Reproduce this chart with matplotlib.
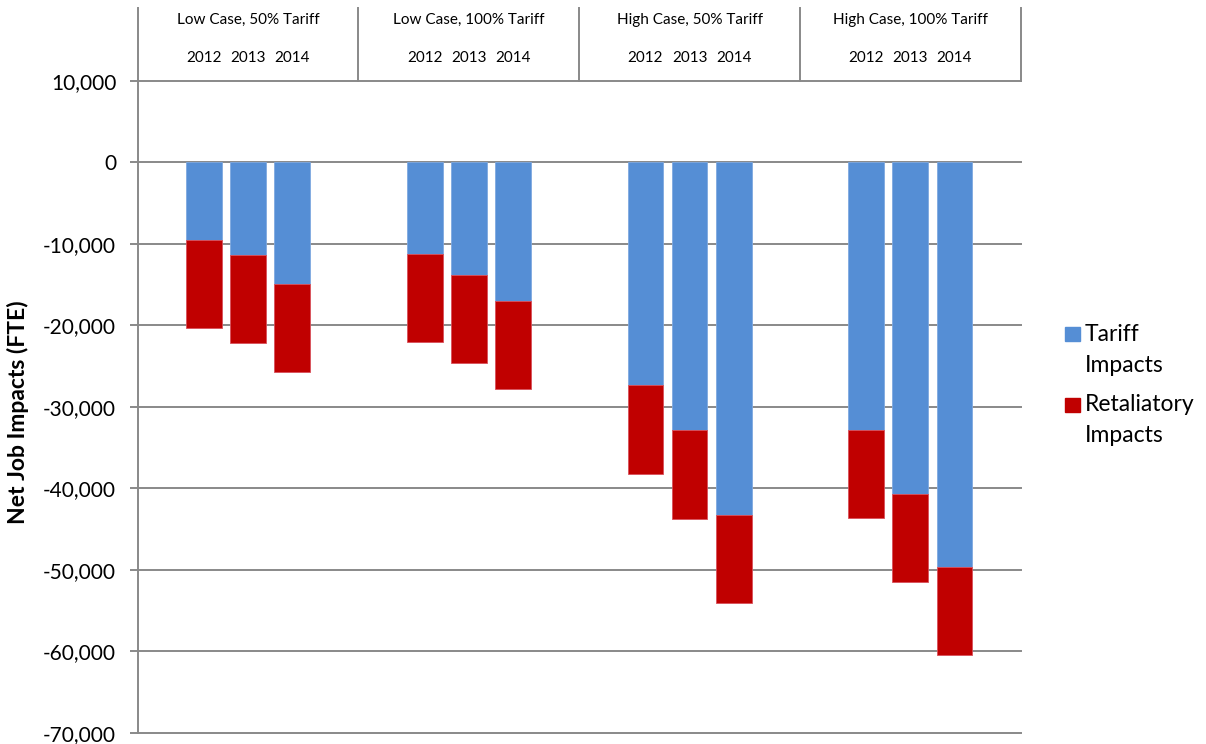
import numpy as np
import matplotlib
matplotlib.use('Agg')
import matplotlib.pyplot as plt
import matplotlib.transforms as mtransforms
from matplotlib.patches import Rectangle
from matplotlib.ticker import FuncFormatter

# Net job impacts (FTE) by scenario and year
groups = ['Low Case, 50% Tariff', 'Low Case, 100% Tariff',
          'High Case, 50% Tariff', 'High Case, 100% Tariff']
years = ['2012', '2013', '2014']
tariff = [-9500, -11340, -14940,
          -11220, -13840, -16990,
          -27350, -32840, -43240,
          -32800, -40660, -49630]
retaliatory = [-10850, -10850, -10860,
               -10850, -10850, -10850,
               -10860, -10890, -10850,
               -10810, -10810, -10890]
series_names = ['Tariff\nImpacts', 'Retaliatory\nImpacts']

BLUE = '#558ED5'
RED = '#C00000'
GRID = '#898989'
W, H = 1206, 744

plt.rcParams['font.family'] = ['Lato', 'DejaVu Sans']

fig = plt.figure(figsize=(W / 100, H / 100), dpi=100)
left, right, top, bottom = 137.7, 1020.7, 80.7, 732.7
ax = fig.add_axes([left / W, 1 - bottom / H, (right - left) / W, (bottom - top) / H])

# five slots per group: empty, 2012, 2013, 2014, empty
slots = 5
x = np.array([g * slots + 1 + i for g in range(len(groups)) for i in range(len(years))])
ax.bar(x, tariff, width=0.81, color=BLUE, edgecolor='#7FA9E0', linewidth=0.6, zorder=2)
ax.bar(x, retaliatory, bottom=tariff, width=0.81, color=RED, edgecolor='#D9505A',
       linewidth=0.6, zorder=2)

ax.set_xlim(-0.5, slots * len(groups) - 0.5)
ax.set_ylim(-70000, 10000)
yticks = np.arange(-70000, 10001, 10000)
ax.set_yticks(yticks)
ax.yaxis.set_major_formatter(FuncFormatter(lambda v, p: f'{v:,.0f}'))
ax.set_xticks([])
for y in yticks:
    ax.axhline(y, color=GRID, lw=1.4, zorder=1, clip_on=False)

for s in ['top', 'right', 'bottom']:
    ax.spines[s].set_visible(False)
ax.spines['left'].set_color(GRID)
ax.spines['left'].set_linewidth(1.4)
ax.tick_params(axis='y', length=5.5, width=1.4, color=GRID, pad=10, labelsize=15,
               labelcolor='black')

# category header above the plot
trans = mtransforms.blended_transform_factory(ax.transData, ax.transAxes)
ax_h = bottom - top
head_top = 1 + (top - 8) / ax_h
for g in range(len(groups) + 1):
    xe = g * slots - 0.5
    ax.plot([xe, xe], [1, head_top], transform=trans, color=GRID, lw=1.4, clip_on=False)
for g, name in enumerate(groups):
    ax.text(g * slots + 2, 1 + (top - 20) / ax_h, name, transform=trans,
            ha='center', va='center', fontsize=11)
    for i, yr in enumerate(years):
        ax.text(g * slots + 1 + i, 1 + (top - 57.5) / ax_h, yr, transform=trans,
                ha='center', va='center', fontsize=11)

fig.text(18 / W, 1 - 412 / H, 'Net Job Impacts (FTE)', rotation=90, ha='center',
         va='center', fontsize=16.5, fontweight='bold')

# legend
for (name, color), ytop in zip(zip(series_names, [BLUE, RED]), [327, 398]):
    fig.patches.append(Rectangle((1065 / W, 1 - (ytop + 14) / H), 15 / W, 14 / H,
                                 transform=fig.transFigure, color=color))
    line1, line2 = name.split('\n')
    fig.text(1085 / W, 1 - (ytop + 7) / H, line1, ha='left', va='center', fontsize=16.5)
    fig.text(1085 / W, 1 - (ytop + 38) / H, line2, ha='left', va='center', fontsize=16.5)

fig.savefig('out.png', dpi=100)
